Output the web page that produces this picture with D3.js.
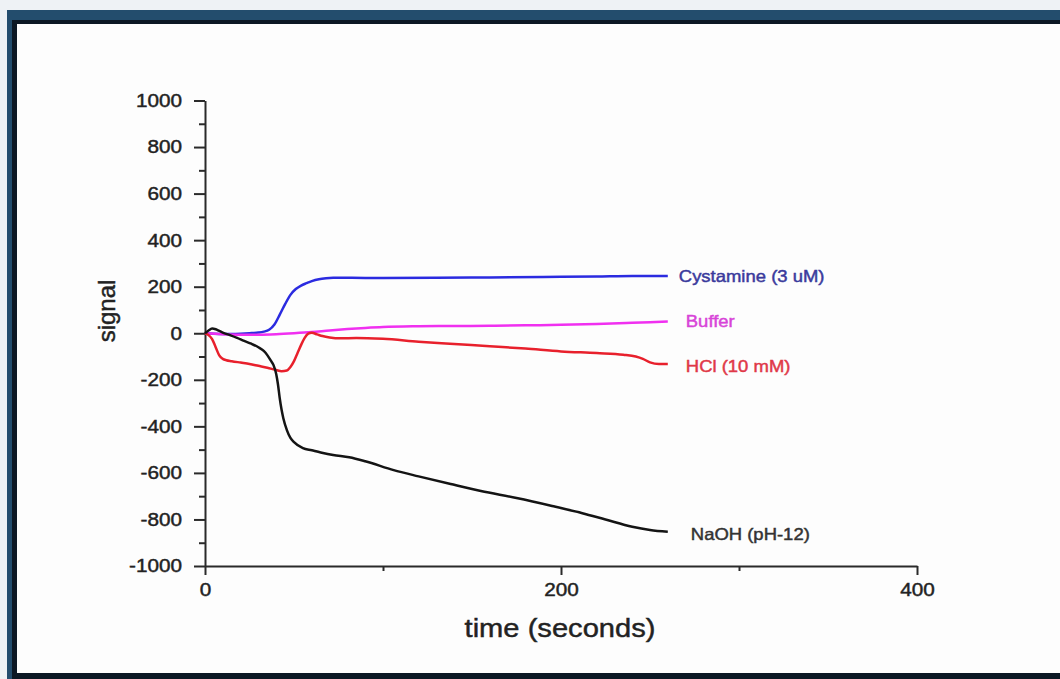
<!DOCTYPE html>
<html>
<head>
<meta charset="utf-8">
<script src="https://cdn.jsdelivr.net/npm/d3@7"></script>
<style>
  html, body { margin: 0; padding: 0; background: #eef2f5; }
  svg { display: block; }
  text { font-family: "Liberation Sans", Arial, sans-serif; stroke-width: 0.45px; }
</style>
</head>
<body>
<div id="chart"></div>
<script>
var svgWidth = 1060;
var svgHeight = 679;

// series data (time in s, signal)
var names = ["Cystamine (3 uM)", "Buffer", "HCl (10 mM)", "NaOH (pH-12)"];
var lineColors = ["#2b2be0", "#f030f0", "#e8202c", "#141414"];
var labelColors = ["#3a3a9c", "#d844d8", "#e03848", "#333333"];
var labelDx = [11, 18, 18, 23];
var labelDy = [6, 5, 8, 8];

var cystT = [0, 5, 10, 15, 20, 25, 30, 33, 36, 39, 42, 45, 48, 51, 54, 57, 60, 64, 68, 72, 80, 100, 130, 160, 190, 220, 240, 260];
var cystV = [0, -2, -3, -3, -2, 0, 3, 7, 15, 38, 80, 125, 165, 190, 205, 215, 224, 232, 236, 238, 238, 237, 238, 240, 242, 244, 246, 246];

var bufT = [0, 10, 20, 30, 40, 50, 60, 70, 80, 90, 100, 120, 140, 160, 180, 200, 220, 240, 260];
var bufV = [0, -4, -6, -6, -4, 0, 5, 12, 18, 23, 27, 30, 31, 32, 34, 36, 40, 45, 50];

var hclT = [0, 2, 4, 6, 8, 10, 12, 15, 20, 25, 30, 35, 40, 43, 46, 48, 50, 52, 54, 56, 58, 60, 63, 66, 70, 76, 85, 100, 120, 140, 160, 180, 200, 220, 235, 242, 246, 250, 255, 260];
var hclV = [0, -8, -25, -60, -95, -110, -116, -120, -126, -132, -140, -148, -158, -163, -160, -145, -120, -85, -50, -20, -2, 2, -5, -12, -18, -22, -20, -24, -36, -46, -56, -66, -78, -85, -92, -100, -110, -125, -132, -132];

var naohT = [0, 2, 4, 6, 8, 10, 14, 18, 22, 26, 30, 33, 35, 37, 38.5, 40, 41, 42, 43, 44, 46, 48, 50, 55, 60, 65, 72, 81, 90, 106, 120, 138, 155, 175, 195, 212, 225, 240, 250, 260];
var naohV = [0, 12, 20, 17, 10, 3, -8, -20, -33, -45, -60, -76, -94, -118, -137, -175, -220, -280, -328, -365, -416, -450, -468, -494, -503, -512, -523, -533, -550, -588, -615, -648, -678, -708, -742, -773, -800, -831, -845, -853];

var seriesT = [cystT, bufT, hclT, naohT];
var seriesV = [cystV, bufV, hclV, naohV];

var xMajor = [0, 200, 400];
var xMinor = [100, 300];
var yMajor = [-1000, -800, -600, -400, -200, 0, 200, 400, 600, 800, 1000];
var yMinor = [-900, -700, -500, -300, -100, 100, 300, 500, 700, 900];

var stretch = 1.12;

var svg = d3.select("#chart")
    .append("svg")
    .attr("width", svgWidth)
    .attr("height", svgHeight);

// picture frame
svg.append("rect").attr("x", 7).attr("y", 10).attr("width", 1060).attr("height", 680).attr("fill", "#234d6d");
svg.append("rect").attr("x", 12).attr("y", 20).attr("width", 1060).attr("height", 670).attr("fill", "#0c1824");
svg.append("rect").attr("x", 17).attr("y", 24).attr("width", 1060).attr("height", 649).attr("fill", "#fdfdfd");

var xScale = d3.scaleLinear().domain([0, 400]).range([205, 917]);
var yScale = d3.scaleLinear().domain([-1000, 1000]).range([566, 100.5]);

// minor ticks
svg.append("g")
    .attr("class", "minor")
    .attr("transform", "translate(0,566)")
    .call(d3.axisBottom(xScale).tickValues(xMinor).tickSize(5).tickFormat(""))
    .call(function(g) { g.select(".domain").remove(); });

svg.append("g")
    .attr("class", "minor")
    .attr("transform", "translate(205,0)")
    .call(d3.axisLeft(yScale).tickValues(yMinor).tickSize(6).tickFormat(""))
    .call(function(g) { g.select(".domain").remove(); });

svg.selectAll(".minor line").attr("stroke", "#2a2a2a").attr("stroke-width", 2);

// major axes
svg.append("g")
    .attr("class", "x-axis")
    .attr("transform", "translate(0,566)")
    .call(d3.axisBottom(xScale).tickValues(xMajor).tickSize(9).tickSizeOuter(0).tickPadding(8).tickFormat(d3.format("d")));

svg.append("g")
    .attr("class", "y-axis")
    .attr("transform", "translate(205,0)")
    .call(d3.axisLeft(yScale).tickValues(yMajor).tickSize(11).tickSizeOuter(0).tickPadding(9.5).tickFormat(function(d) { return d < 0 ? "-" + Math.abs(d) : d; }));

svg.selectAll(".x-axis, .y-axis").selectAll("path, line")
    .attr("stroke", "#2a2a2a")
    .attr("stroke-width", 2);

svg.selectAll(".x-axis text, .y-axis text")
    .attr("fill", "#222")
    .attr("stroke", "#222")
    .style("font-size", "18.5px")
    .attr("transform", "scale(" + stretch + ",1)");

// axis titles
svg.append("text")
    .attr("transform", "translate(560,637) scale(" + stretch + ",1)")
    .attr("text-anchor", "middle")
    .attr("fill", "#222")
    .attr("stroke", "#222")
    .style("font-size", "26px")
    .text("time (seconds)");

svg.append("text")
    .attr("transform", "translate(115,311) rotate(-90)")
    .attr("text-anchor", "middle")
    .attr("fill", "#222")
    .attr("stroke", "#222")
    .style("font-size", "24px")
    .text("signal");

// curves
var line = d3.line()
    .x(function(d) { return xScale(d[0]); })
    .y(function(d) { return yScale(d[1]); })
    .curve(d3.curveMonotoneX);

names.forEach(function(name, i) {
    var pts = seriesT[i].map(function(t, j) { return [t, seriesV[i][j]]; });
    svg.append("path")
        .datum(pts)
        .attr("fill", "none")
        .attr("stroke", lineColors[i])
        .attr("stroke-width", 2.5)
        .attr("stroke-linejoin", "round")
        .attr("d", line);

    var last = pts[pts.length - 1];
    svg.append("text")
        .attr("transform", "translate(" + (xScale(last[0]) + labelDx[i]) + "," + (yScale(last[1]) + labelDy[i]) + ") scale(" + stretch + ",1)")
        .attr("fill", labelColors[i])
        .attr("stroke", labelColors[i])
        .style("font-size", "16.5px")
        .text(name);
});
</script>
</body>
</html>
